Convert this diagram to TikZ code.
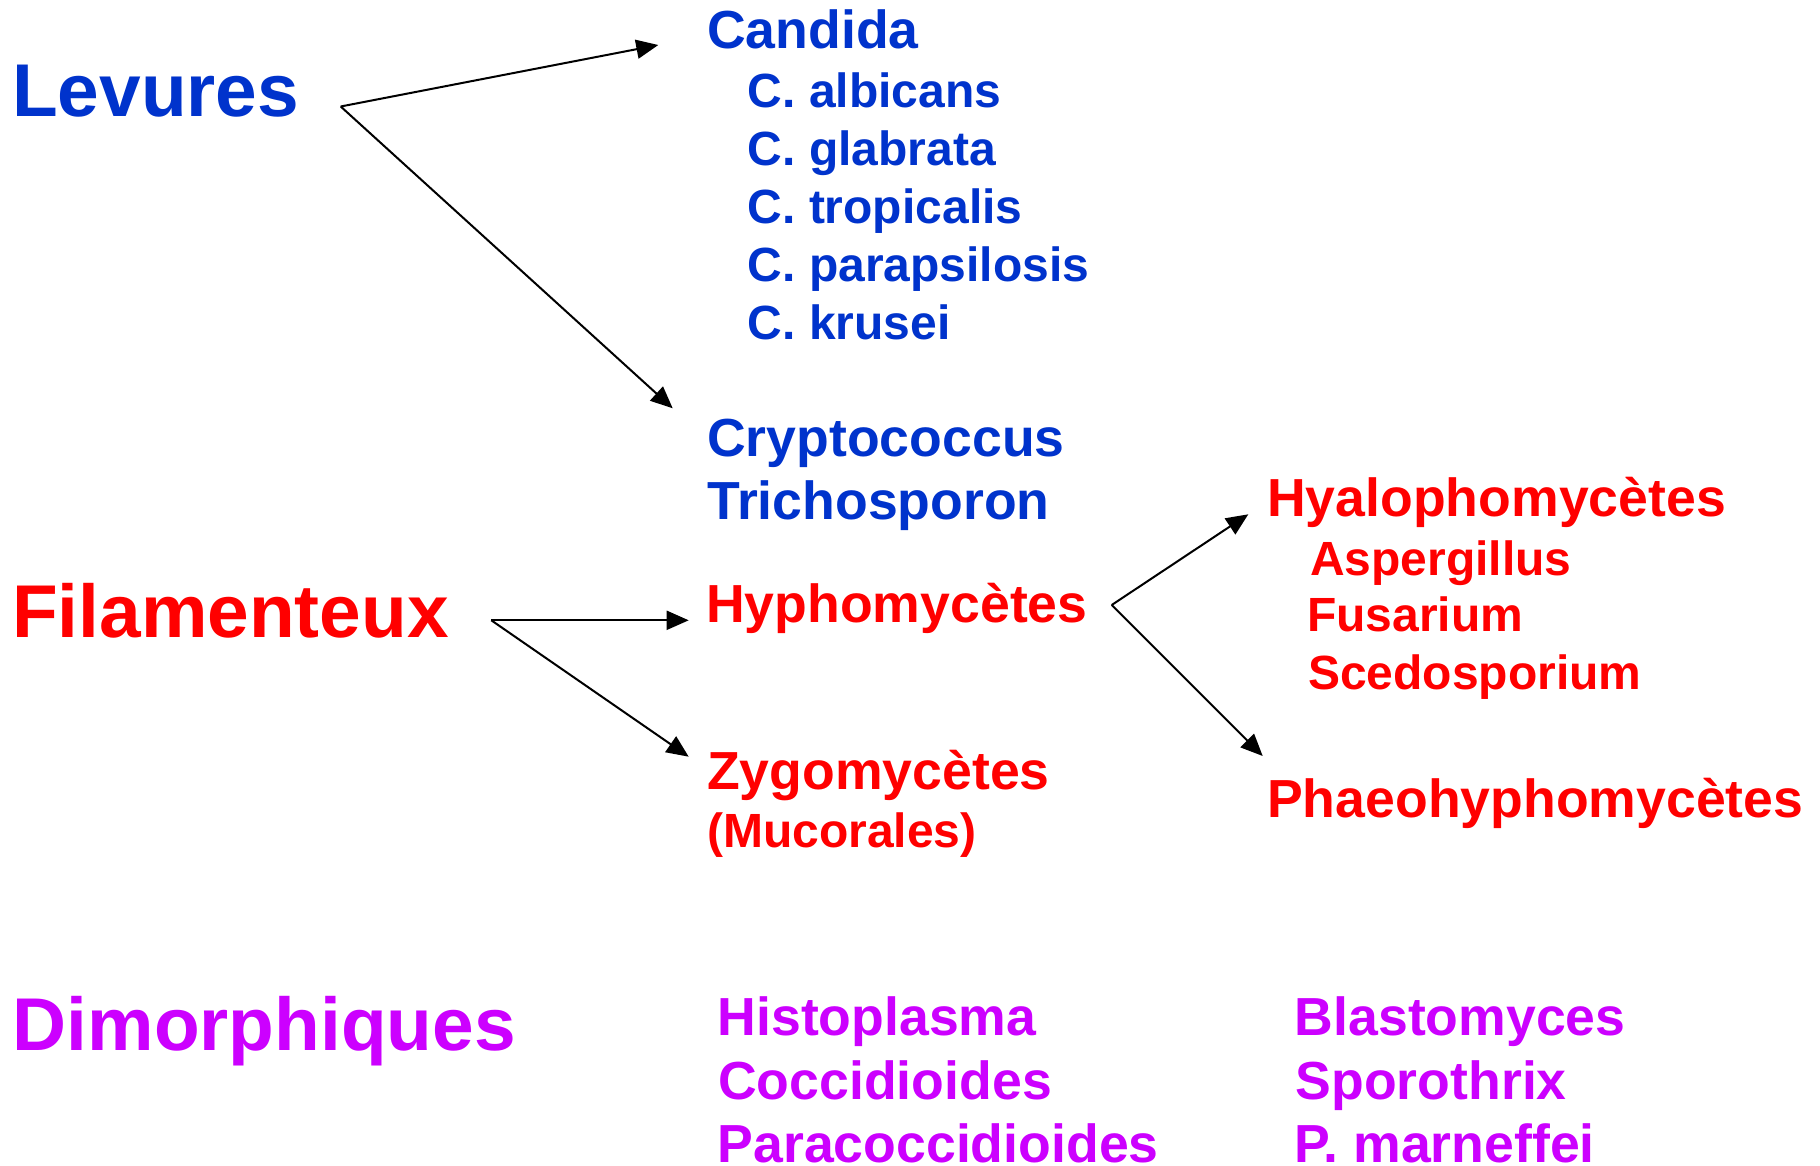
\documentclass[tikz,border=0pt]{standalone}
\usepackage{fontspec}
\setmainfont{Liberation Sans}
\usetikzlibrary{arrows.meta}
\definecolor{cblue}{HTML}{0033CC}
\definecolor{cred}{HTML}{FF0000}
\definecolor{cmag}{HTML}{CC00FF}
\begin{document}
\begin{tikzpicture}[x=1pt,y=-1pt,
  big/.style={anchor=base west,inner sep=0pt,font=\fontsize{74.8}{80}\selectfont\bfseries},
  mid/.style={anchor=base west,inner sep=0pt,font=\fontsize{53.6}{60}\selectfont\bfseries},
  sml/.style={anchor=base west,inner sep=0pt,font=\fontsize{48}{55}\selectfont\bfseries},
  arr/.style={line width=2pt,-{Triangle[length=22pt,width=19pt]}}]
\useasboundingbox[fill=white] (0,0) rectangle (1820,1166);

% Levures
\node[big,text=cblue] (lev) at (12,117) {Levures};
\node[mid,text=cblue] (cand) at (707,48.3) {Candida};
\node[sml,text=cblue] (alb) at (747.5,107.3) {C. albicans};
\node[sml,text=cblue] (gla) at (747.5,165.3) {C. glabrata};
\node[sml,text=cblue] (tro) at (747.5,223.3) {C. tropicalis};
\node[sml,text=cblue] (par) at (747.5,281.3) {C. parapsilosis};
\node[sml,text=cblue] (kru) at (747.5,339.3) {C. krusei};
\node[mid,text=cblue] (cry) at (707,456) {Cryptococcus};
\node[mid,text=cblue] (tri) at (707,519.3) {Trichosporon};

% Filamenteux
\node[big,text=cred] (fil) at (12,637.3) {Filamenteux};
\node[mid,text=cred] (hyp) at (706,622.5) {Hyphomycètes};
\node[mid,text=cred] (zyg) at (707,789) {Zygomycètes};
\node[sml,text=cred] (muc) at (707,847) {(Mucorales)};
\node[mid,text=cred] (hya) at (1267,516) {Hyalophomycètes};
\node[sml,text=cred] (asp) at (1310,575) {Aspergillus};
\node[sml,text=cred] (fus) at (1307,631.7) {Fusarium};
\node[sml,text=cred] (sce) at (1308,689.3) {Scedosporium};
\node[mid,text=cred] (pha) at (1267,817.3) {Phaeohyphomycètes};

% Dimorphiques
\node[big,text=cmag] (dim) at (12.6,1050.7) {Dimorphiques};
\node[mid,text=cmag] (his) at (717.5,1035) {Histoplasma};
\node[mid,text=cmag] (coc) at (718,1099.3) {Coccidioides};
\node[mid,text=cmag] (pcc) at (717.5,1162) {Paracoccidioides};
\node[mid,text=cmag] (bla) at (1294.7,1035) {Blastomyces};
\node[mid,text=cmag] (spo) at (1295.5,1099.3) {Sporothrix};
\node[mid,text=cmag] (pma) at (1294.7,1162) {P. marneffei};

% connector points
\coordinate (levO) at (340.7,106.5);
\coordinate (candT) at (658.3,45);
\coordinate (cryT) at (672.7,408.3);
\coordinate (filO) at (491.3,620.3);
\coordinate (hypT) at (688.7,620.3);
\coordinate (zygT) at (688.7,756.7);
\coordinate (hypO) at (1111.7,605);
\coordinate (hyaT) at (1248.3,514.3);
\coordinate (phaT) at (1262.7,756);

\draw[arr] (levO) -- (candT);
\draw[arr] (levO) -- (cryT);
\draw[arr] (filO) -- (hypT);
\draw[arr] (filO) -- (zygT);
\draw[arr] (hypO) -- (hyaT);
\draw[arr] (hypO) -- (phaT);
\end{tikzpicture}
\end{document}
